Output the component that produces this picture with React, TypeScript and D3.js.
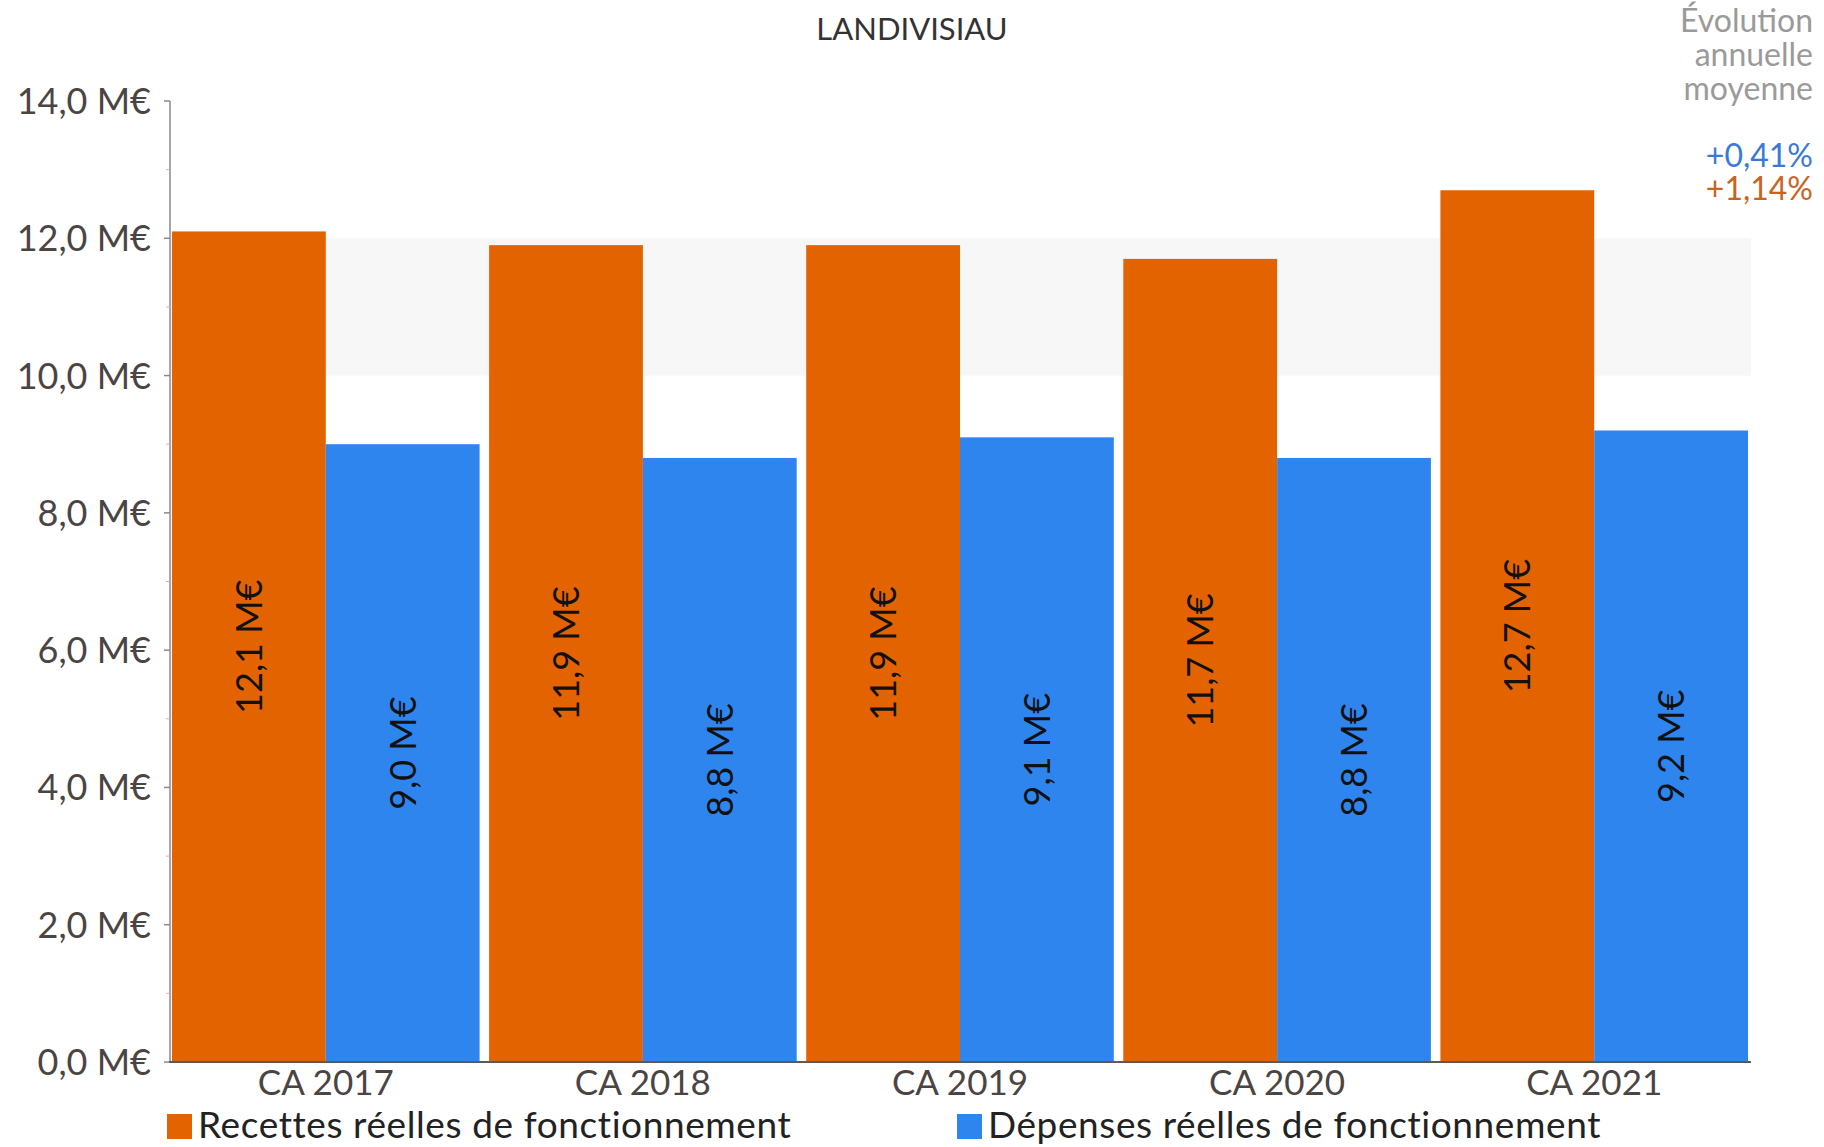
import React from "react";
import * as d3 from "d3";

// Comptes administratifs (CA), en millions d'euros
const categories = ["CA 2017", "CA 2018", "CA 2019", "CA 2020", "CA 2021"];
const recettes = [12.1, 11.9, 11.9, 11.7, 12.7];
const depenses = [9.0, 8.8, 9.1, 8.8, 9.2];
const seriesNames = [
  "Recettes réelles de fonctionnement",
  "Dépenses réelles de fonctionnement",
];
const yTicks = [0, 2, 4, 6, 8, 10, 12, 14];
const yMinorTicks = [1, 3, 5, 7, 9, 11, 13];
const evolutionTitle = ["Évolution", "annuelle", "moyenne"];
const evolutionDepenses = "+0,41%";
const evolutionRecettes = "+1,14%";
const title = "LANDIVISIAU";

const ORANGE = "#e36300";
const BLUE = "#2f85ee";
const FONT = "Lato, 'Open Sans', sans-serif";

const fr = d3.formatLocale({
  decimal: ",",
  thousands: "\u00a0",
  grouping: [3],
  currency: ["", "\u00a0€"],
});
const fmt1 = fr.format(".1f");
const meur = (v: number) => `${fmt1(v)} M€`;

export default function App() {
  const W = 1824;
  const H = 1147;
  const axisX = 170;
  const plotRight = 1751;

  const y = d3.scaleLinear().domain([0, 14]).range([1062, 101]);
  const x0 = d3
    .scaleBand<string>()
    .domain(categories)
    .range([172, 1748])
    .paddingInner(0.03)
    .paddingOuter(0);
  const x1 = d3
    .scaleBand<number>()
    .domain([0, 1])
    .range([0, x0.bandwidth()])
    .padding(0);

  const series = [
    { values: recettes, color: ORANGE },
    { values: depenses, color: BLUE },
  ];

  return (
    <div style={{ position: "absolute", left: 0, top: 0 }}>
      <svg width={W} height={H} viewBox={`0 0 ${W} ${H}`} style={{ display: "block", background: "#ffffff" }}>
        {/* bande grisée entre 10 et 12 M€ */}
        <rect
          x={axisX}
          y={y(12)}
          width={plotRight - axisX}
          height={y(10) - y(12)}
          fill="#f7f7f7"
        />

        {/* barres */}
        {categories.map((c, i) => (
          <g key={c} transform={`translate(${x0(c)},0)`}>
            {series.map((s, k) => {
              const v = s.values[i];
              const bx = x1(k) as number;
              const bw = x1.bandwidth();
              const top = y(v);
              const cx = bx + bw / 2;
              const cy = (top + y(0)) / 2;
              return (
                <g key={k}>
                  <rect x={bx} y={top} width={bw} height={y(0) - top} fill={s.color} />
                  <text
                    transform={`translate(${cx},${cy}) rotate(-90)`}
                    textAnchor="middle"
                    dy="0.36em"
                    fontFamily={FONT}
                    fontSize={36}
                    fill="#111"
                  >
                    {meur(v)}
                  </text>
                </g>
              );
            })}
          </g>
        ))}

        {/* axe vertical */}
        <line x1={axisX} x2={axisX} y1={y(14)} y2={y(0)} stroke="#8a8a8a" strokeWidth={1.5} />
        {yMinorTicks.map((t) => (
          <line key={`m${t}`} x1={axisX - 4} x2={axisX} y1={y(t)} y2={y(t)} stroke="#f3a3a3" strokeWidth={1} />
        ))}
        {yTicks.map((t) => (
          <g key={t}>
            <line x1={axisX - 6} x2={axisX} y1={y(t)} y2={y(t)} stroke="#8a8a8a" strokeWidth={1.5} />
            <text
              x={151}
              y={y(t)}
              dy="0.36em"
              textAnchor="end"
              fontFamily={FONT}
              fontSize={36}
              fill="#4a4543"
            >
              {meur(t)}
            </text>
          </g>
        ))}

        {/* axe horizontal */}
        <line x1={axisX - 1} x2={plotRight} y1={y(0)} y2={y(0)} stroke="#5a5a5a" strokeWidth={2} />
        {categories.map((c) => (
          <text
            key={c}
            x={(x0(c) as number) + x0.bandwidth() / 2}
            y={1095}
            textAnchor="middle"
            fontFamily={FONT}
            fontSize={35}
            fill="#4a4543"
          >
            {c}
          </text>
        ))}

        {/* titre */}
        <text x={912} y={40} textAnchor="middle" fontFamily={FONT} fontSize={31} fill="#333">
          {title}
        </text>

        {/* évolution annuelle moyenne */}
        <text textAnchor="end" fontFamily={FONT} fontSize={32} fill="#9a9a9a">
          {evolutionTitle.map((l, i) => (
            <tspan key={l} x={1813} y={32 + i * 34}>
              {l}
            </tspan>
          ))}
        </text>
        <text textAnchor="end" fontFamily={FONT} fontSize={32}>
          <tspan x={1813} y={167} fill="#3a7ad6">
            {evolutionDepenses}
          </tspan>
          <tspan x={1813} y={200} fill="#c8641e">
            {evolutionRecettes}
          </tspan>
        </text>

        {/* légende */}
        {seriesNames.map((name, i) => {
          const lx = i === 0 ? 167 : 957;
          return (
            <g key={name}>
              <rect x={lx} y={1114} width={25} height={25} fill={series[i].color} />
              <text x={lx + 31} y={1138} fontFamily={FONT} fontSize={37} letterSpacing={0.6} fill="#222">
                {name}
              </text>
            </g>
          );
        })}
      </svg>
    </div>
  );
}
